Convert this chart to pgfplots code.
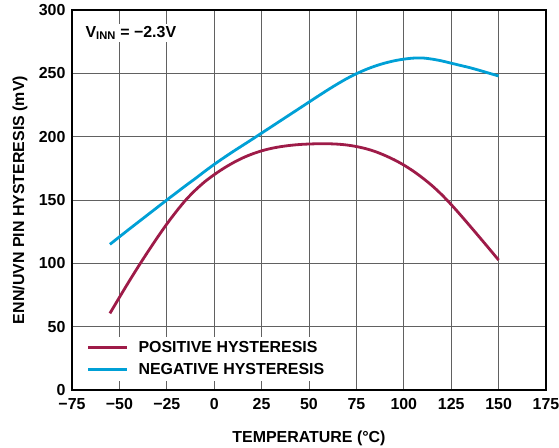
\documentclass[border=0pt]{standalone}
\usepackage{fontspec}
\setmainfont{Liberation Sans}
\usepackage{pgfplots}
\pgfplotsset{compat=1.18}
\definecolor{posred}{RGB}{158,27,72}
\definecolor{negblue}{RGB}{0,160,214}
\begin{document}
\begin{tikzpicture}
\useasboundingbox (-72bp,-58bp) rectangle (487bp,390bp);
\begin{axis}[
  at={(0,0)}, anchor=south west,
  scale only axis, width=474bp, height=380bp,
  xmin=-75, xmax=175, ymin=0, ymax=300,
  xtick={-75,-50,...,175}, ytick={0,50,...,300},
  xticklabels={\textminus75,\textminus50,\textminus25,0,25,50,75,100,125,150,175},
  major tick length=0pt,
  grid=major,
  major grid style={line width=0.8bp, draw=black!62},
  axis line style={line width=1.4bp, black},
  /pgf/number format/assume math mode=true,
  ticklabel style={font=\fontsize{16}{19}\selectfont\bfseries},
  xticklabel style={yshift=-5bp},
  yticklabel style={xshift=-3bp},
  xlabel={TEMPERATURE (°C)},
  ylabel={ENN/UVN PIN HYSTERESIS (mV)},
  label style={font=\fontsize{16}{19}\selectfont\bfseries},
  xlabel style={yshift=-14bp},
  ylabel style={yshift=4.5bp},
  legend style={draw=none, fill=white, at={(axis cs:-69,42.3)}, anchor=north west,
    font=\fontsize{16}{19}\selectfont\bfseries, row sep=5bp, column sep=8bp,
    inner xsep=3bp, inner ysep=3bp, cells={anchor=west}},
  legend image code/.code={\draw[#1] (0bp,0bp) -- (39bp,0bp);},
  legend cell align=left,
]
\addplot[posred, line width=2.8bp, smooth, forget plot] coordinates {
(-55,60.5) (-50,73.1) (-45,85.5) (-40,97.5) (-35,109.1) (-30,120.3) (-25,131)
(-20,140.9) (-15,150) (-10,157.7) (-5,164.4) (0,170) (5,175) (10,179.4)
(15,183.2) (20,186.3) (25,188.8) (30,190.7) (35,192.1) (40,193.1) (45,193.8)
(50,194.2) (55,194.4) (60,194.4) (65,194.1) (70,193.4) (75,192.2) (80,190.5)
(85,188.2) (90,185.2) (95,181.7) (100,177.6) (105,172.8) (110,167.3) (115,161.2)
(120,154.2) (125,146.4) (130,138) (135,129.3) (140,120.5) (145,111.6) (150,102.6)
};
\addplot[negblue, line width=2.8bp, smooth, forget plot] coordinates {
(-55,115) (-50,120.9) (-45,126.8) (-40,132.6) (-35,138.4) (-30,144.2) (-25,150)
(-20,155.7) (-15,161.4) (-10,166.9) (-5,172.6) (0,178.1) (5,183.3) (10,188.3)
(15,193.1) (20,197.9) (25,202.8) (30,207.7) (35,212.6) (40,217.5) (45,222.4)
(50,227.3) (55,232.2) (60,237) (65,241.6) (70,245.9) (75,249.7) (80,253)
(85,255.8) (90,258.1) (95,259.9) (100,261.2) (105,262) (110,262.1) (115,261.2)
(120,259.8) (125,258) (130,256.2) (135,254.4) (140,252.3) (145,250.1) (150,247.9)
};
\addlegendimage{draw=posred, line width=3bp}
\addlegendentry{POSITIVE HYSTERESIS}
\addlegendimage{draw=negblue, line width=3bp}
\addlegendentry{NEGATIVE HYSTERESIS}
\node[fill=white, anchor=west, inner sep=2bp, font=\fontsize{16}{19}\selectfont\bfseries]
  at (axis cs:-69,282) {V\textsubscript{INN} = \textminus2.3V};
\end{axis}
\end{tikzpicture}
\end{document}
